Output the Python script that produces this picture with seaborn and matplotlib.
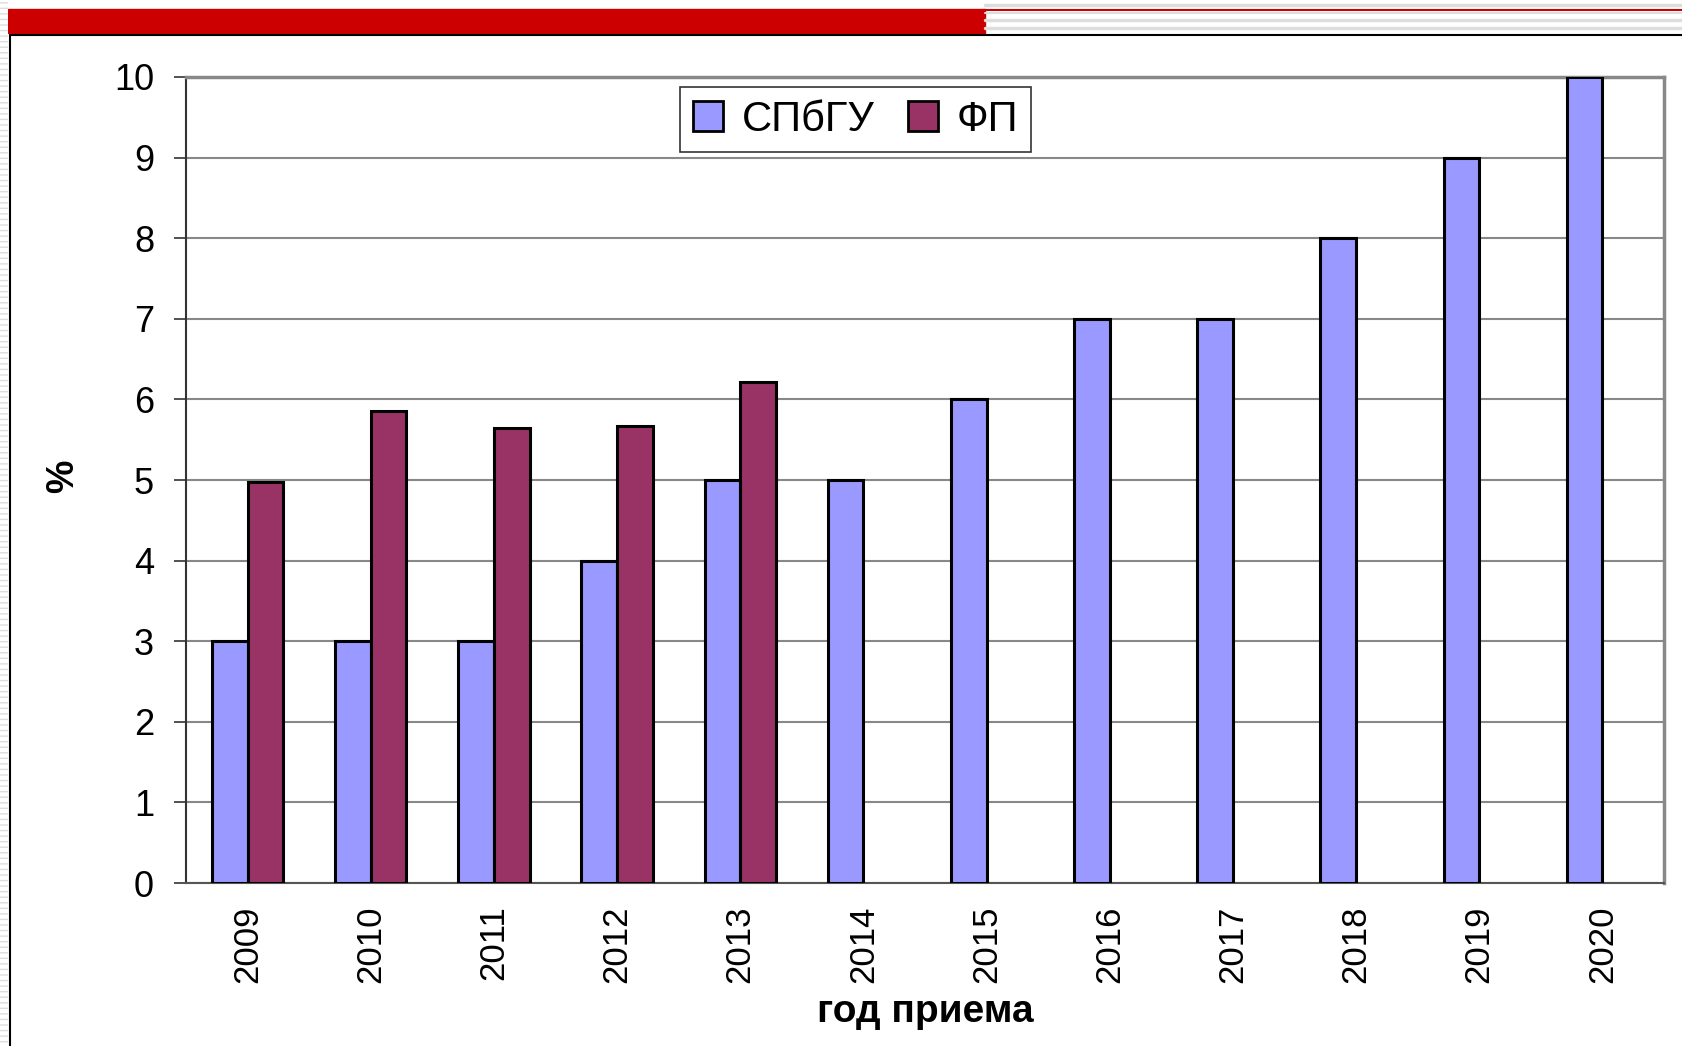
import numpy as np
import pandas as pd
import matplotlib.pyplot as plt
from matplotlib.patches import Rectangle
from matplotlib.lines import Line2D
import seaborn as sns

years = ['2009', '2010', '2011', '2012', '2013', '2014',
         '2015', '2016', '2017', '2018', '2019', '2020']
spbgu = [3, 3, 3, 4, 5, 5, 6, 7, 7, 8, 9, 10]
fp = [4.97, 5.85, 5.64, 5.67, 6.21, np.nan, np.nan, np.nan, np.nan, np.nan, np.nan, np.nan]
series_names = ['СПбГУ', 'ФП']
colors = ['#9999FF', '#993366']

df = pd.DataFrame({
    'year': years * 2,
    'value': spbgu + fp,
    'series': [series_names[0]] * len(years) + [series_names[1]] * len(years),
})

sns.set_style('white')
plt.rcParams['font.family'] = ['Liberation Sans', 'DejaVu Sans']
plt.rcParams['text.color'] = 'black'
plt.rcParams['axes.labelcolor'] = 'black'
plt.rcParams['xtick.color'] = 'black'
plt.rcParams['ytick.color'] = 'black'

fig = plt.figure(figsize=(16.83, 10.46), dpi=100)
ax = fig.add_axes([0.1105, 0.1558, 0.8782, 0.7706])

# slide decoration
fig.patches.append(Rectangle((8 / 1683, 1 - 33 / 1046), 977 / 1683, 24 / 1046,
                             transform=fig.transFigure, color='#CC0000', zorder=0))
for yy, c, lw in [(5, '#DDDDDD', 2.5), (10, '#CC0000', 1.5), (13, '#DDDDDD', 1.5),
                  (20, '#DDDDDD', 2.5), (28, '#DDDDDD', 2.5)]:
    fig.lines.append(Line2D([985 / 1683, 1], [1 - yy / 1046] * 2, transform=fig.transFigure,
                            color=c, lw=lw))
fig.lines.append(Line2D([10 / 1683, 1], [1 - 35 / 1046] * 2, transform=fig.transFigure,
                        color='black', lw=1.5))
fig.lines.append(Line2D([10 / 1683, 10 / 1683], [0, 1 - 35 / 1046], transform=fig.transFigure,
                        color='black', lw=1.5))
fig.patches.append(Rectangle((0, 0), 8 / 1683, 1, transform=fig.transFigure,
                             facecolor='white', edgecolor='#DDDDDD', hatch='---', lw=0))

sns.barplot(data=df, x='year', y='value', hue='series', palette=colors,
            width=0.58, saturation=1, edgecolor='black', linewidth=2.2, ax=ax, zorder=3)

ax.set_ylim(0, 10)
ax.set_xlim(-0.5, len(years) - 0.5)
ax.set_yticks(range(0, 11))
ax.yaxis.grid(True, color='#888888', lw=1.5, zorder=0)
ax.set_axisbelow(True)

ax.set_xticks(np.arange(-0.5, len(years)), minor=True)
ax.tick_params(axis='x', which='major', length=0, pad=16, labelsize=25, labelrotation=90)
ax.tick_params(axis='x', which='minor', length=9, width=1.2, color='#333333', direction='out')
ax.tick_params(axis='y', length=9, width=1.2, color='#333333', direction='out', pad=14, labelsize=26)
ax.tick_params(axis='both', bottom=True, left=True)

for side in ['top', 'right']:
    ax.spines[side].set_color('#888888')
    ax.spines[side].set_linewidth(2.5)
ax.spines['left'].set_color('#333333')
ax.spines['left'].set_linewidth(1.5)
ax.spines['bottom'].set_color('#555555')
ax.spines['bottom'].set_linewidth(1.5)

ax.set_xlabel('год приема', fontsize=28, fontweight='bold', labelpad=8)
ax.set_ylabel('%', fontsize=27, fontweight='bold')
ax.yaxis.set_label_coords(-0.071, 0.505)

leg = ax.legend(loc='center', bbox_to_anchor=(0.453, 0.947), ncol=2, fontsize=30,
                frameon=True, fancybox=False, edgecolor='black', handlelength=0.72,
                handleheight=0.72, handletextpad=0.45, columnspacing=0.8, borderpad=0.3)
leg.get_frame().set_linewidth(1.2)
for h in leg.legend_handles:
    h.set_edgecolor('black')
    h.set_linewidth(2)

fig.savefig('out.png', dpi=100)
